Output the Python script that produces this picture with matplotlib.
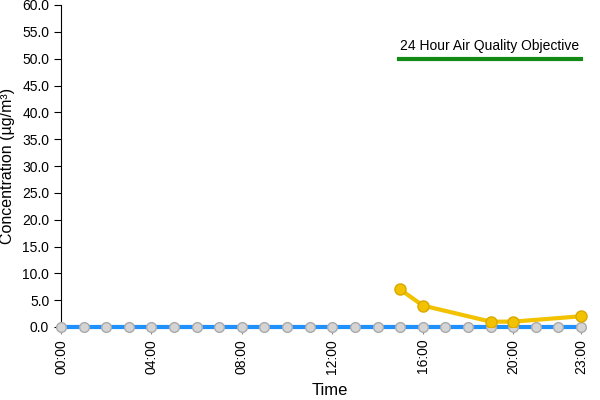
import matplotlib
matplotlib.use("Agg")
import matplotlib.pyplot as plt
import numpy as np

plt.rcParams['font.family'] = ['Liberation Sans', 'DejaVu Sans']

hours = list(range(24))
blue_values = [0.0] * 24
yellow_hours = [15, 16, 19, 20, 23]
yellow_values = [7.0, 4.0, 1.0, 1.0, 2.0]
objective_value = 50.0
objective_range = [14.95, 23.0]
objective_label = "24 Hour Air Quality Objective"
xtick_pos = [0, 4, 8, 12, 16, 20, 23]
xtick_labels = ["00:00", "04:00", "08:00", "12:00", "16:00", "20:00", "23:00"]
yticks = np.arange(0, 60.01, 5)

fig = plt.figure(figsize=(6, 4), dpi=100)
ax = fig.add_axes([61/600, 73/400, 537/600, 322/400])

ax.plot(hours, blue_values, color='#1e90ff', lw=3, zorder=2, clip_on=False)
ax.plot(hours, blue_values, ls='none', marker='o', ms=7, mfc='#d4d4d4', mec='#aaaaaa', mew=1, zorder=3, clip_on=False)
ax.plot(yellow_hours, yellow_values, color='#f2c200', lw=3, marker='o', ms=8, mfc='#f2c200', mec='#d9a800', mew=1, zorder=4)
ax.plot(objective_range, [objective_value]*2, color='#138a13', lw=3, zorder=2)
ax.text(sum(objective_range)/2, objective_value + 1.0, objective_label, ha='center', va='bottom', fontsize=10)

ax.set_xlim(0, 23.75)
ax.set_ylim(0, 60)
ax.set_yticks(yticks)
ax.set_yticklabels([f"{v:.1f}" for v in yticks], fontsize=10)
ax.set_xticks(xtick_pos)
ax.set_xticklabels(xtick_labels, rotation=90, fontsize=10)
ax.tick_params(axis='y', length=5, color='black')
ax.tick_params(axis='x', length=5, color='#888888')
for s in ['top', 'right', 'bottom']:
    ax.spines[s].set_visible(False)
ax.spines['left'].set_color('black')
ax.set_ylabel("Concentration (µg/m³)", fontsize=11.5)
ax.yaxis.set_label_coords(-0.086, 0.5)
ax.set_xlabel("Time", fontsize=12)
ax.xaxis.set_label_coords(0.5, -0.175)

fig.savefig("out.png", dpi=100)
